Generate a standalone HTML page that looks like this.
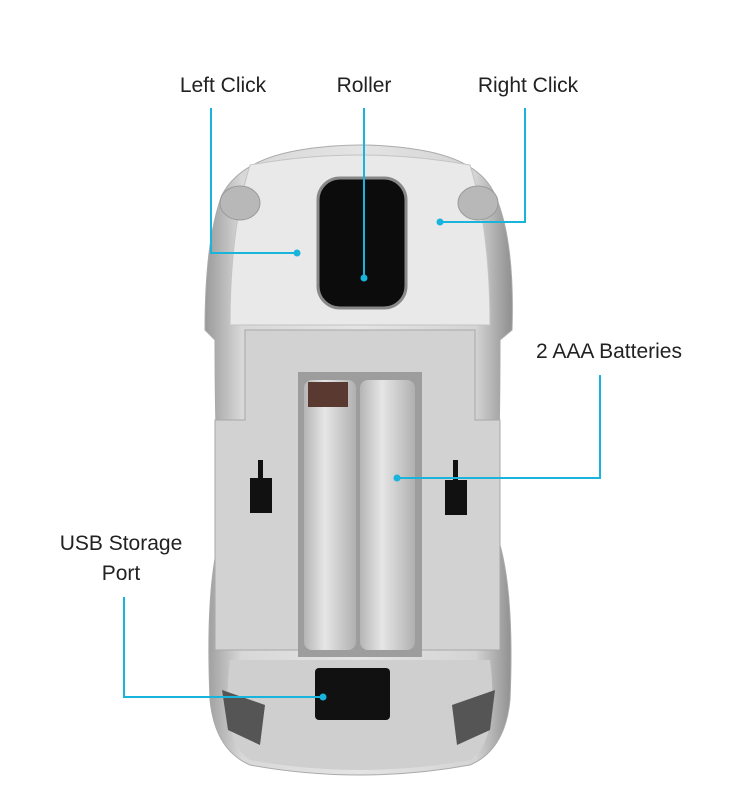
<!DOCTYPE html>
<html><head><meta charset="utf-8"><style>
html,body{margin:0;padding:0;background:#fff;}
svg{display:block}
text{font-family:"Liberation Sans",sans-serif;font-size:21px;fill:#222}
</style></head><body>
<svg width="750" height="800" viewBox="0 0 750 800" xmlns="http://www.w3.org/2000/svg">
<defs>
<linearGradient id="body" x1="0" x2="1" y1="0" y2="0">
<stop offset="0" stop-color="#9a9a9a"/><stop offset="0.12" stop-color="#d8d8d8"/><stop offset="0.5" stop-color="#e4e4e4"/><stop offset="0.88" stop-color="#d4d4d4"/><stop offset="1" stop-color="#8e8e8e"/>
</linearGradient>
<linearGradient id="bat" x1="0" x2="1"><stop offset="0" stop-color="#b5b5b5"/><stop offset="0.4" stop-color="#e6e6e6"/><stop offset="1" stop-color="#b0b0b0"/></linearGradient>
</defs>
<!-- body -->
<path d="M300 150 Q360 140 420 150 Q480 160 495 195 Q515 240 512 330 L500 340 Q500 470 495 530 Q515 580 510 700 Q505 750 470 765 Q360 785 250 765 Q215 750 210 700 Q205 580 222 530 Q215 470 215 340 L205 330 Q205 240 222 195 Q240 160 300 150 Z" fill="url(#body)" stroke="#aaa"/>
<!-- top shell highlight -->
<path d="M250 165 Q360 145 470 165 Q490 230 490 325 L230 325 Q230 230 250 165Z" fill="#e9e9e9" stroke="#c4c4c4"/>
<!-- headlights -->
<ellipse cx="240" cy="203" rx="20" ry="17" fill="#b8b8b8" stroke="#999"/>
<ellipse cx="478" cy="203" rx="20" ry="17" fill="#b8b8b8" stroke="#999"/>
<!-- inner grey panel -->
<path d="M245 330 L475 330 L475 420 L500 420 L500 650 L215 650 L215 420 L245 420Z" fill="#d2d2d2" stroke="#a8a8a8"/>
<!-- roller -->
<rect x="318" y="178" width="88" height="130" rx="22" fill="#0c0c0c" stroke="#888" stroke-width="3"/>
<!-- battery compartment -->
<rect x="298" y="372" width="124" height="285" fill="#9d9d9d"/>
<rect x="304" y="380" width="52" height="270" rx="8" fill="url(#bat)"/>
<rect x="360" y="380" width="55" height="270" rx="8" fill="url(#bat)"/>
<rect x="308" y="382" width="40" height="25" fill="#5a3a30"/>
<!-- slots -->
<rect x="258" y="460" width="5" height="20" fill="#111"/><rect x="250" y="478" width="22" height="35" fill="#111"/>
<rect x="453" y="460" width="5" height="20" fill="#111"/><rect x="445" y="480" width="22" height="35" fill="#111"/>
<!-- rear -->
<path d="M230 660 L490 660 Q500 740 470 760 Q360 780 250 760 Q220 740 230 660Z" fill="#cfcfcf"/>
<rect x="315" y="668" width="75" height="52" rx="4" fill="#111"/>
<path d="M222 690 L265 705 L260 745 L228 730Z" fill="#555"/>
<path d="M495 690 L452 705 L457 745 L490 730Z" fill="#555"/>
<!-- callouts -->
<g stroke="#18b4dc" stroke-width="2" fill="none">
<polyline points="211,108 211,253 297,253"/>
<polyline points="364,108 364,278"/>
<polyline points="525,108 525,222 440,222"/>
<polyline points="600,375 600,478 397,478"/>
<polyline points="124,597 124,697 323,697"/>
</g>
<g fill="#18b4dc">
<circle cx="297" cy="253" r="3.5"/><circle cx="364" cy="278" r="3.5"/><circle cx="440" cy="222" r="3.5"/><circle cx="397" cy="478" r="3.5"/><circle cx="323" cy="697" r="3.5"/>
</g>
<text x="223" y="92" text-anchor="middle">Left Click</text>
<text x="364" y="92" text-anchor="middle">Roller</text>
<text x="528" y="92" text-anchor="middle">Right Click</text>
<text x="609" y="358" text-anchor="middle">2 AAA Batteries</text>
<text x="121" y="550" text-anchor="middle">USB Storage</text>
<text x="121" y="580" text-anchor="middle">Port</text>
</svg>
</body></html>
